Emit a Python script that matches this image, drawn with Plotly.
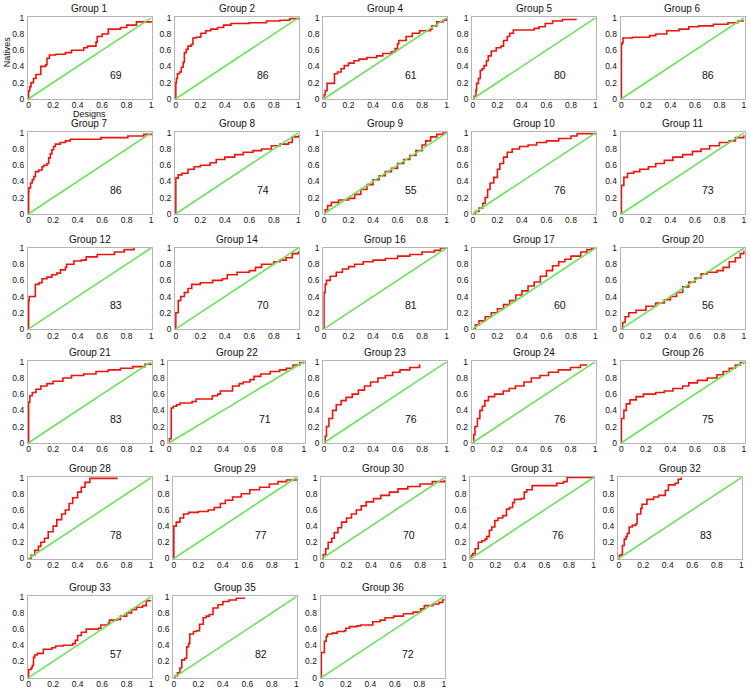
import plotly.graph_objects as go

GROUPS = [1, 2, 4, 5, 6, 7, 8, 9, 10, 11, 12, 14, 16, 17, 20, 21, 22, 23, 24, 26, 28, 29, 30, 31, 32, 33, 35, 36]
AUC = [69, 86, 61, 80, 86, 86, 74, 55, 76, 73, 83, 70, 81, 60, 56, 83, 71, 76, 76, 75, 78, 77, 70, 76, 83, 57, 82, 72]
TICK_VALS = [0, 0.2, 0.4, 0.6, 0.8, 1]
TICK_TEXT = ['0', '0.2', '0.4', '0.6', '0.8', '1']
DIAG_X = [0, 1]
DIAG_Y = [0, 1]
X_LABEL = 'Designs'
Y_LABEL = 'Natives'

G1_X = [0, 0, 0.01, 0.02, 0.04, 0.06, 0.1, 0.1, 0.14, 0.15, 0.17, 0.22, 0.3, 0.35, 0.45, 0.48, 0.55, 0.56, 0.6, 0.65, 0.75, 0.8, 0.88, 1]
G1_Y = [0, 0.1, 0.15, 0.2, 0.25, 0.3, 0.3, 0.4, 0.42, 0.5, 0.54, 0.55, 0.57, 0.6, 0.63, 0.65, 0.7, 0.77, 0.8, 0.86, 0.88, 0.91, 0.95, 0.96]
G2_X = [0, 0, 0.005, 0.013, 0.03, 0.045, 0.06, 0.07, 0.085, 0.1, 0.125, 0.14, 0.165, 0.2, 0.205, 0.245, 0.285, 0.34, 0.39, 0.45, 0.6, 0.74, 0.85, 0.93, 1]
G2_Y = [0, 0.2, 0.25, 0.31, 0.33, 0.39, 0.45, 0.57, 0.61, 0.65, 0.67, 0.75, 0.76, 0.77, 0.81, 0.84, 0.86, 0.88, 0.91, 0.93, 0.94, 0.96, 0.97, 0.99, 1]
G4_X = [0, 0, 0.01, 0.025, 0.08, 0.085, 0.11, 0.14, 0.165, 0.2, 0.245, 0.285, 0.35, 0.43, 0.48, 0.55, 0.58, 0.6, 0.61, 0.67, 0.72, 0.78, 0.87, 0.88, 0.92, 0.97, 1]
G4_Y = [0, 0.05, 0.1, 0.19, 0.19, 0.31, 0.33, 0.37, 0.41, 0.44, 0.47, 0.49, 0.51, 0.53, 0.56, 0.58, 0.62, 0.68, 0.72, 0.77, 0.81, 0.84, 0.86, 0.9, 0.95, 0.97, 1]
G5_X = [0, 0.01, 0.025, 0.03, 0.045, 0.06, 0.075, 0.09, 0.11, 0.125, 0.15, 0.19, 0.23, 0.25, 0.28, 0.3, 0.33, 0.45, 0.5, 0.54, 0.59, 0.65, 0.73, 0.84]
G5_Y = [0, 0.03, 0.11, 0.19, 0.25, 0.35, 0.37, 0.41, 0.47, 0.53, 0.59, 0.63, 0.65, 0.72, 0.77, 0.81, 0.85, 0.85, 0.87, 0.89, 0.93, 0.96, 0.98, 0.99]
G6_X = [0, 0, 0.005, 0.013, 0.09, 0.23, 0.28, 0.37, 0.47, 0.55, 0.63, 0.75, 0.87, 0.95, 1]
G6_Y = [0, 0.67, 0.69, 0.75, 0.76, 0.78, 0.8, 0.84, 0.86, 0.89, 0.9, 0.92, 0.94, 0.96, 0.96]
G7_X = [0, 0, 0.003, 0.016, 0.03, 0.043, 0.056, 0.083, 0.11, 0.124, 0.15, 0.164, 0.177, 0.19, 0.204, 0.218, 0.258, 0.3, 0.34, 0.59, 0.81, 0.94, 1]
G7_Y = [0, 0.27, 0.32, 0.38, 0.42, 0.46, 0.52, 0.54, 0.58, 0.6, 0.62, 0.69, 0.74, 0.79, 0.83, 0.86, 0.88, 0.9, 0.92, 0.94, 0.96, 0.98, 0.99]
G8_X = [0, 0, 0.02, 0.05, 0.1, 0.15, 0.2, 0.28, 0.33, 0.4, 0.48, 0.55, 0.63, 0.7, 0.78, 0.85, 0.92, 0.95, 1]
G8_Y = [0, 0.44, 0.48, 0.5, 0.55, 0.58, 0.6, 0.63, 0.67, 0.7, 0.73, 0.76, 0.78, 0.8, 0.84, 0.86, 0.88, 0.95, 0.97]
G9_X = [0, 0.01, 0.03, 0.06, 0.12, 0.2, 0.25, 0.3, 0.35, 0.4, 0.45, 0.5, 0.55, 0.6, 0.65, 0.7, 0.75, 0.8, 0.83, 0.87, 0.92, 0.97, 1]
G9_Y = [0, 0.05, 0.1, 0.14, 0.17, 0.19, 0.24, 0.3, 0.36, 0.42, 0.47, 0.52, 0.56, 0.62, 0.67, 0.72, 0.78, 0.85, 0.9, 0.95, 0.98, 1, 1]
G10_X = [0, 0.02, 0.05, 0.08, 0.1, 0.12, 0.14, 0.17, 0.2, 0.22, 0.25, 0.28, 0.32, 0.38, 0.45, 0.52, 0.6, 0.7, 0.8, 0.85, 1]
G10_Y = [0, 0.03, 0.07, 0.13, 0.2, 0.3, 0.38, 0.45, 0.55, 0.62, 0.7, 0.76, 0.8, 0.83, 0.85, 0.88, 0.9, 0.93, 0.96, 0.99, 1]
G11_X = [0, 0, 0.02, 0.05, 0.1, 0.15, 0.22, 0.28, 0.35, 0.42, 0.5, 0.58, 0.65, 0.72, 0.8, 0.88, 0.93, 1]
G11_Y = [0, 0.35, 0.45, 0.5, 0.52, 0.55, 0.58, 0.62, 0.66, 0.7, 0.73, 0.77, 0.8, 0.84, 0.88, 0.9, 0.94, 0.97]
G12_X = [0, 0, 0.005, 0.05, 0.055, 0.085, 0.11, 0.15, 0.19, 0.23, 0.26, 0.3, 0.31, 0.37, 0.43, 0.47, 0.56, 0.7, 0.78, 0.86]
G12_Y = [0, 0.35, 0.4, 0.4, 0.55, 0.57, 0.62, 0.64, 0.67, 0.69, 0.73, 0.76, 0.8, 0.84, 0.85, 0.89, 0.92, 0.95, 0.98, 1]
G14_X = [0, 0, 0.02, 0.04, 0.07, 0.1, 0.13, 0.2, 0.3, 0.38, 0.42, 0.5, 0.6, 0.65, 0.7, 0.8, 0.85, 0.9, 0.95, 1]
G14_Y = [0, 0.2, 0.35, 0.4, 0.45, 0.5, 0.55, 0.57, 0.6, 0.62, 0.67, 0.7, 0.72, 0.76, 0.8, 0.83, 0.85, 0.88, 0.93, 0.96]
G16_X = [0, 0, 0.01, 0.02, 0.05, 0.1, 0.15, 0.2, 0.25, 0.32, 0.4, 0.5, 0.6, 0.7, 0.8, 0.9, 0.95, 1]
G16_Y = [0, 0.45, 0.55, 0.6, 0.65, 0.7, 0.74, 0.77, 0.8, 0.83, 0.85, 0.87, 0.9, 0.92, 0.95, 0.97, 1, 1]
G17_X = [0, 0.02, 0.05, 0.1, 0.15, 0.2, 0.25, 0.3, 0.35, 0.4, 0.45, 0.5, 0.55, 0.6, 0.65, 0.7, 0.75, 0.8, 0.88, 0.93, 0.97, 1]
G17_Y = [0, 0.05, 0.1, 0.15, 0.2, 0.25, 0.3, 0.35, 0.42, 0.47, 0.53, 0.58, 0.65, 0.72, 0.78, 0.83, 0.86, 0.9, 0.95, 0.98, 1, 1]
G20_X = [0, 0.01, 0.03, 0.06, 0.12, 0.2, 0.28, 0.35, 0.4, 0.45, 0.5, 0.55, 0.6, 0.65, 0.7, 0.78, 0.83, 0.88, 0.93, 0.97, 1]
G20_Y = [0, 0.08, 0.15, 0.2, 0.23, 0.28, 0.32, 0.36, 0.4, 0.45, 0.52, 0.58, 0.63, 0.68, 0.7, 0.72, 0.76, 0.83, 0.88, 0.93, 0.97]
G21_X = [0, 0, 0.01, 0.03, 0.06, 0.1, 0.15, 0.2, 0.28, 0.35, 0.45, 0.55, 0.65, 0.75, 0.85, 0.95, 1]
G21_Y = [0, 0.5, 0.58, 0.62, 0.66, 0.7, 0.73, 0.76, 0.8, 0.83, 0.85, 0.88, 0.9, 0.92, 0.94, 0.97, 0.98]
G22_X = [0, 0, 0.015, 0.03, 0.055, 0.08, 0.17, 0.2, 0.32, 0.36, 0.38, 0.47, 0.52, 0.55, 0.6, 0.63, 0.68, 0.75, 0.82, 0.87, 0.92, 0.97, 1]
G22_Y = [0, 0.05, 0.43, 0.45, 0.47, 0.49, 0.51, 0.54, 0.58, 0.6, 0.64, 0.7, 0.73, 0.75, 0.78, 0.82, 0.85, 0.88, 0.9, 0.92, 0.96, 0.99, 1]
G23_X = [0, 0.01, 0.02, 0.04, 0.07, 0.1, 0.14, 0.18, 0.23, 0.28, 0.33, 0.38, 0.44, 0.5, 0.56, 0.62, 0.7, 0.78]
G23_Y = [0, 0.08, 0.2, 0.3, 0.4, 0.47, 0.52, 0.56, 0.6, 0.65, 0.7, 0.75, 0.8, 0.83, 0.87, 0.9, 0.93, 0.97]
G24_X = [0, 0.01, 0.02, 0.04, 0.06, 0.08, 0.1, 0.13, 0.18, 0.25, 0.3, 0.35, 0.42, 0.48, 0.55, 0.62, 0.7, 0.8, 0.88, 0.93]
G24_Y = [0, 0.1, 0.2, 0.3, 0.4, 0.45, 0.52, 0.57, 0.6, 0.64, 0.67, 0.7, 0.75, 0.8, 0.83, 0.87, 0.9, 0.93, 0.96, 0.97]
G26_X = [0, 0, 0.02, 0.04, 0.07, 0.12, 0.18, 0.28, 0.35, 0.42, 0.5, 0.55, 0.62, 0.7, 0.78, 0.83, 0.88, 0.93, 0.97, 1]
G26_Y = [0, 0.3, 0.4, 0.48, 0.53, 0.57, 0.6, 0.62, 0.64, 0.67, 0.7, 0.74, 0.77, 0.8, 0.84, 0.88, 0.92, 0.96, 0.99, 1]
G28_X = [0, 0.02, 0.05, 0.08, 0.1, 0.13, 0.16, 0.2, 0.23, 0.27, 0.3, 0.33, 0.36, 0.4, 0.43, 0.46, 0.5, 0.72]
G28_Y = [0, 0.04, 0.1, 0.15, 0.2, 0.25, 0.33, 0.4, 0.48, 0.55, 0.6, 0.68, 0.75, 0.82, 0.88, 0.94, 0.99, 1]
G29_X = [0, 0, 0.02, 0.05, 0.08, 0.12, 0.2, 0.28, 0.33, 0.38, 0.42, 0.48, 0.55, 0.62, 0.7, 0.78, 0.85, 0.92, 1]
G29_Y = [0, 0.4, 0.45, 0.5, 0.55, 0.57, 0.58, 0.6, 0.63, 0.68, 0.72, 0.76, 0.8, 0.85, 0.88, 0.92, 0.95, 0.97, 0.98]
G30_X = [0, 0.01, 0.03, 0.05, 0.08, 0.1, 0.13, 0.16, 0.2, 0.24, 0.28, 0.32, 0.36, 0.42, 0.48, 0.55, 0.62, 0.7, 0.8, 0.9, 1]
G30_Y = [0, 0.05, 0.12, 0.2, 0.25, 0.32, 0.38, 0.45, 0.5, 0.55, 0.6, 0.65, 0.7, 0.74, 0.78, 0.82, 0.86, 0.89, 0.92, 0.95, 0.97]
G31_X = [0, 0.003, 0.015, 0.035, 0.06, 0.09, 0.115, 0.13, 0.15, 0.17, 0.195, 0.22, 0.26, 0.29, 0.315, 0.34, 0.355, 0.41, 0.435, 0.455, 0.5, 0.69, 0.7, 0.755, 0.785, 1]
G31_Y = [0, 0.04, 0.06, 0.12, 0.2, 0.22, 0.24, 0.27, 0.35, 0.39, 0.47, 0.5, 0.53, 0.61, 0.63, 0.69, 0.73, 0.74, 0.82, 0.85, 0.9, 0.9, 0.93, 0.95, 1, 1]
G32_X = [0, 0.005, 0.02, 0.03, 0.045, 0.06, 0.07, 0.085, 0.11, 0.14, 0.15, 0.18, 0.19, 0.23, 0.285, 0.325, 0.38, 0.405, 0.46, 0.485, 0.51]
G32_Y = [0, 0.04, 0.05, 0.16, 0.24, 0.27, 0.31, 0.39, 0.41, 0.43, 0.55, 0.62, 0.67, 0.73, 0.76, 0.78, 0.84, 0.91, 0.93, 0.98, 1]
G33_X = [0, 0, 0.02, 0.03, 0.04, 0.05, 0.07, 0.12, 0.19, 0.22, 0.28, 0.36, 0.38, 0.4, 0.43, 0.47, 0.57, 0.59, 0.65, 0.66, 0.72, 0.75, 0.8, 0.84, 0.88, 0.93, 0.96, 1]
G33_Y = [0, 0.1, 0.12, 0.15, 0.25, 0.28, 0.3, 0.35, 0.37, 0.39, 0.4, 0.42, 0.46, 0.52, 0.56, 0.6, 0.61, 0.65, 0.67, 0.71, 0.72, 0.76, 0.8, 0.84, 0.87, 0.89, 0.95, 0.95]
G35_X = [0, 0.01, 0.03, 0.05, 0.065, 0.09, 0.105, 0.12, 0.13, 0.16, 0.185, 0.21, 0.24, 0.265, 0.29, 0.32, 0.36, 0.4, 0.45, 0.51, 0.58]
G35_Y = [0, 0.02, 0.06, 0.12, 0.22, 0.24, 0.38, 0.42, 0.54, 0.57, 0.58, 0.66, 0.74, 0.76, 0.78, 0.86, 0.9, 0.94, 0.96, 0.98, 0.98]
G36_X = [0, 0, 0.025, 0.04, 0.05, 0.09, 0.13, 0.19, 0.2, 0.23, 0.29, 0.32, 0.42, 0.48, 0.52, 0.59, 0.67, 0.75, 0.81, 0.84, 0.91, 0.96, 0.99, 1]
G36_Y = [0, 0.31, 0.45, 0.51, 0.54, 0.55, 0.57, 0.58, 0.61, 0.63, 0.64, 0.65, 0.69, 0.71, 0.74, 0.76, 0.79, 0.81, 0.85, 0.89, 0.91, 0.93, 0.96, 0.97]

CURVES_X = [G1_X, G2_X, G4_X, G5_X, G6_X, G7_X, G8_X, G9_X, G10_X, G11_X, G12_X, G14_X, G16_X, G17_X,
            G20_X, G21_X, G22_X, G23_X, G24_X, G26_X, G28_X, G29_X, G30_X, G31_X, G32_X, G33_X, G35_X, G36_X]
CURVES_Y = [G1_Y, G2_Y, G4_Y, G5_Y, G6_Y, G7_Y, G8_Y, G9_Y, G10_Y, G11_Y, G12_Y, G14_Y, G16_Y, G17_Y,
            G20_Y, G21_Y, G22_Y, G23_Y, G24_Y, G26_Y, G28_Y, G29_Y, G30_Y, G31_Y, G32_Y, G33_Y, G35_Y, G36_Y]

# ---- layout (pixel geometry of the panels) ----
W, H = 750, 692
ROW_TOP = [12.5, 129, 245.7, 361, 478.3, 599]
PANEL_H = 83
ROW_LEFT = [
    [26, 174, 323, 472.7, 622],
    [26, 174, 323, 472.7, 622],
    [26, 174, 323, 472.7, 622],
    [26, 167.3, 323, 472.3, 622],
    [26, 172, 321, 470.7, 619.3],
    [26, 172, 320.3],
]
PANEL_W = 124.7
WIDE_PANEL = {16: 137}  # index of Group 22

RED = 'rgb(238,20,12)'
GREEN = 'rgb(105,228,88)'
FONT = 'Liberation Sans, Arial, Helvetica, sans-serif'

fig = go.Figure()
layout = dict(
    width=W, height=H, margin=dict(l=0, r=0, t=0, b=0),
    paper_bgcolor='white', plot_bgcolor='white', showlegend=False,
    font=dict(family=FONT, color='#111111'),
)
annotations = []

for i, (g, auc) in enumerate(zip(GROUPS, AUC)):
    r, c = divmod(i, 5)
    left = ROW_LEFT[r][c]
    width = WIDE_PANEL.get(i, PANEL_W)
    top = ROW_TOP[r]
    n = '' if i == 0 else str(i + 1)
    xa, ya = 'x' + n, 'y' + n
    fig.add_trace(go.Scatter(x=CURVES_X[i], y=CURVES_Y[i], mode='lines', line_shape='hv',
                             line=dict(color=RED, width=1.6), xaxis=xa, yaxis=ya, hoverinfo='skip'))
    fig.add_trace(go.Scatter(x=DIAG_X, y=DIAG_Y, mode='lines',
                             line=dict(color=GREEN, width=1.6), xaxis=xa, yaxis=ya, hoverinfo='skip'))
    axcommon = dict(range=[-0.006, 1.006], tickvals=TICK_VALS, ticktext=TICK_TEXT,
                    showgrid=False, zeroline=False, showline=True, mirror=True,
                    linecolor='#b4b4b4', linewidth=1, ticks='', fixedrange=True,
                    tickfont=dict(size=8.5, family=FONT, color='#111111'))
    layout['xaxis' + n] = dict(axcommon, domain=[left / W, (left + width) / W], anchor=ya,
                               ticklabelstandoff=-2)
    layout['yaxis' + n] = dict(axcommon, domain=[1 - (top + PANEL_H) / H, 1 - top / H], anchor=xa,
                               ticklabelstandoff=1)
    annotations.append(dict(text='Group %d' % g, x=(left + width / 2) / W, y=1 - top / H,
                            xref='paper', yref='paper', xanchor='center', yanchor='bottom',
                            yshift=2, borderpad=0, showarrow=False,
                            font=dict(size=10, family=FONT, color='#111111')))
    annotations.append(dict(text=str(auc), x=0.71, y=0.29, xref=xa, yref=ya,
                            xanchor='center', yanchor='middle', showarrow=False,
                            font=dict(size=10.5, family=FONT, color='#111111')))

annotations.append(dict(text=Y_LABEL, x=5 / W, y=1 - 47 / H, xref='paper', yref='paper',
                        textangle=-90, xanchor='center', yanchor='middle', showarrow=False,
                        borderpad=0, font=dict(size=9, family=FONT, color='#111111')))
annotations.append(dict(text=X_LABEL, x=88 / W, y=1 - 110.5 / H, xref='paper', yref='paper',
                        xanchor='center', yanchor='middle', showarrow=False, borderpad=0,
                        font=dict(size=9, family=FONT, color='#111111')))
layout['annotations'] = annotations
fig.update_layout(**layout)
fig.write_html('out.html', config={'displayModeBar': False, 'staticPlot': True},
               post_script="document.body.style.margin='0';document.body.style.overflow='hidden';")
